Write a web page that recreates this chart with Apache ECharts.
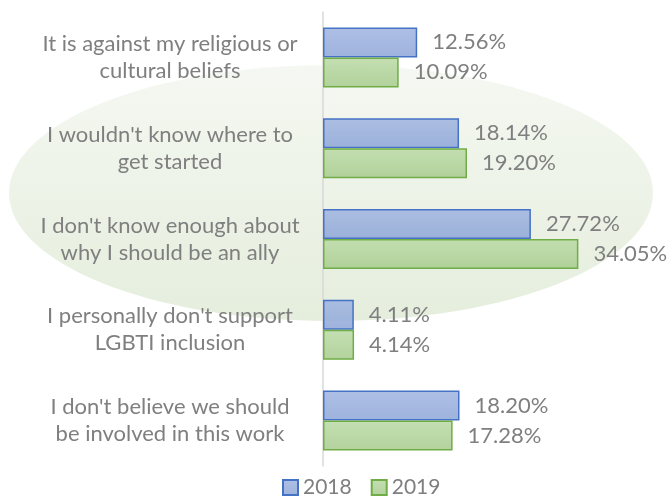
<!DOCTYPE html>
<html><head><meta charset="utf-8">
<script src="https://cdn.jsdelivr.net/npm/echarts@6/dist/echarts.min.js"></script>
<style>html,body{margin:0;padding:0;background:#fff}#c{width:670px;height:498px}</style>
</head><body><div id="c"></div>
<script>
const categories = [
  "It is against my religious or\ncultural beliefs",
  "I wouldn't know where to\nget started",
  "I don't know enough about\nwhy I should be an ally",
  "I personally don't support\nLGBTI inclusion",
  "I don't believe we should\nbe involved in this work"
];
const seriesNames = ["2018", "2019"];
const values2018 = [12.56, 18.14, 27.72, 4.11, 18.20];
const values2019 = [10.09, 19.20, 34.05, 4.14, 17.28];

const chart = echarts.init(document.getElementById('c'), null, {renderer: 'canvas'});
const font = 'Lato, "Open Sans", sans-serif';
function grad(top, bottom) {
  return new echarts.graphic.LinearGradient(0, 0, 0, 1, [{offset: 0, color: top}, {offset: 1, color: bottom}]);
}
chart.setOption({
  animation: false,
  graphic: [{
    type: 'ellipse', z: -10, silent: true,
    shape: {cx: 331, cy: 193, rx: 322, ry: 128},
    style: {fill: grad('#f5f8f2', '#e5eedd')}
  }],
  grid: {left: 323, right: 47, top: 12, bottom: 32, containLabel: false},
  legend: {
    top: 477, left: 282, itemWidth: 15, itemHeight: 15, itemGap: 19, icon: 'rect', padding: 0,
    textStyle: {fontFamily: font, fontSize: 21, color: '#7f7f7f', padding: [0, 0, 0, 0]},
    data: seriesNames
  },
  xAxis: {type: 'value', min: 0, max: 40, show: false},
  yAxis: {
    type: 'category', data: categories, inverse: true,
    axisLine: {show: true, lineStyle: {color: '#d9d9d9', width: 1.5}},
    axisTick: {show: false},
    axisLabel: {fontFamily: font, fontSize: 22, color: '#7f7f7f', align: 'center', margin: 153, lineHeight: 27}
  },
  series: [
    {
      name: seriesNames[0], type: 'bar', data: values2018, barWidth: 30, barGap: '0%',
      itemStyle: {color: grad('rgba(160,180,225,0.85)', 'rgba(140,165,215,0.85)'), borderColor: '#4472c4', borderWidth: 1.5},
      label: {show: true, position: 'right', distance: 15, formatter: p => p.value.toFixed(2) + '%', fontFamily: font, fontSize: 22, color: '#7f7f7f'}
    },
    {
      name: seriesNames[1], type: 'bar', data: values2019, barWidth: 30,
      itemStyle: {color: grad('rgba(190,220,170,0.9)', 'rgba(170,205,145,0.9)'), borderColor: '#70ad47', borderWidth: 1.5},
      label: {show: true, position: 'right', distance: 15, formatter: p => p.value.toFixed(2) + '%', fontFamily: font, fontSize: 22, color: '#7f7f7f'}
    }
  ]
});
</script></body></html>
